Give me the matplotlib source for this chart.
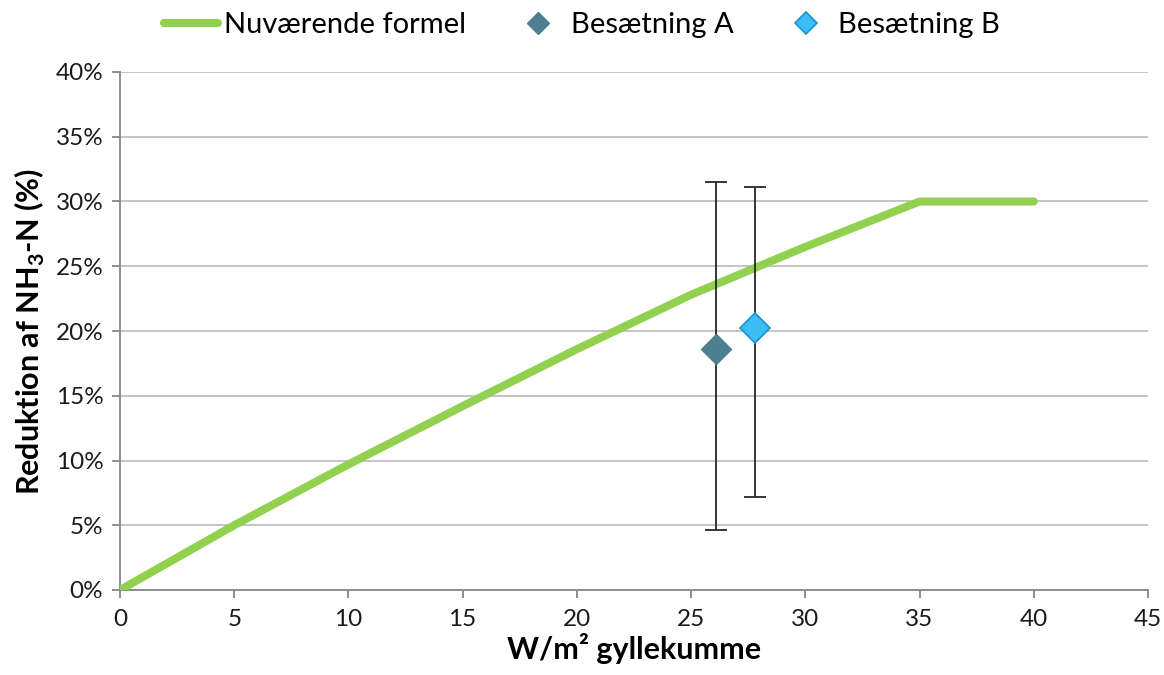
import matplotlib
matplotlib.use("Agg")
import matplotlib.pyplot as plt
from matplotlib.ticker import FuncFormatter

# Data
formel_x = [0, 5, 10, 15, 20, 25, 30, 35, 40]
formel_y = [0.0, 5.0, 9.7, 14.2, 18.6, 22.8, 26.5, 30.0, 30.0]

a_x = [26.1]
a_y = [18.6]
a_err_low = [14.0]
a_err_high = [12.9]

b_x = [27.8]
b_y = [20.2]
b_err_low = [13.0]
b_err_high = [10.9]

x_ticks = [0, 5, 10, 15, 20, 25, 30, 35, 40, 45]
y_ticks = [0, 5, 10, 15, 20, 25, 30, 35, 40]

plt.rcParams['font.family'] = ['Lato', 'DejaVu Sans']
plt.rcParams['mathtext.fontset'] = 'custom'
plt.rcParams['mathtext.rm'] = 'Lato'
plt.rcParams['mathtext.bf'] = 'Lato:bold'

fig = plt.figure(figsize=(11.64, 6.75), dpi=100)
ax = fig.add_axes([120/1164, 1-590/675, (1148-120)/1164, (590-72)/675])

ax.plot(formel_x, formel_y, color='#92D050', lw=5.8, solid_capstyle='round',
        label='Nuværende formel', zorder=3)
ax.errorbar(a_x, a_y, yerr=[a_err_low, a_err_high], fmt='none',
            ecolor='#262626', elinewidth=1.3, capsize=8, capthick=1.3, zorder=4)
ax.errorbar(b_x, b_y, yerr=[b_err_low, b_err_high], fmt='none',
            ecolor='#262626', elinewidth=1.3, capsize=8, capthick=1.3, zorder=4)
ax.plot(a_x, a_y, 'D', color='#4E7F8E', markersize=15, markeredgecolor='#4E7F8E',
        label='Besætning A', zorder=5)
ax.plot(b_x, b_y, 'D', color='#3DBDF5', markersize=15, markeredgecolor='#1B8FD2',
        markeredgewidth=1.2, label='Besætning B', zorder=5)

ax.set_xlim(0, 45)
ax.set_ylim(0, 40)
ax.set_xticks(x_ticks)
ax.set_yticks(y_ticks)
ax.yaxis.set_major_formatter(FuncFormatter(lambda v, p: f"{int(v)}%"))
ax.tick_params(axis='both', labelsize=17.5, length=6, width=1.3, color='#868686',
               labelcolor='#1a1a1a', direction='out')
ax.tick_params(axis='x', pad=8)
ax.tick_params(axis='y', pad=6)
ax.grid(axis='y', color='#BFBFBF', lw=1.3)
ax.set_axisbelow(True)
for s in ['top', 'right']:
    ax.spines[s].set_visible(False)
for s in ['left', 'bottom']:
    ax.spines[s].set_color('#868686')
    ax.spines[s].set_linewidth(1.3)

ax.set_xlabel('W/m² gyllekumme', fontsize=22, fontweight='bold', labelpad=2)
ax.set_ylabel(r'Reduktion af NH$_{\mathbf{3}}$-N (%)', fontsize=22,
              fontweight='bold', labelpad=6)

handles, labels = ax.get_legend_handles_labels()
leg = fig.legend(handles, labels, loc='center', bbox_to_anchor=(0.5, 1 - 25/675),
                 ncol=3, frameon=False, fontsize=21, handlelength=1.85,
                 handletextpad=0.2, columnspacing=1.55, markerscale=0.75,
                 borderpad=0, borderaxespad=0)

fig.savefig('out.png', dpi=100)
